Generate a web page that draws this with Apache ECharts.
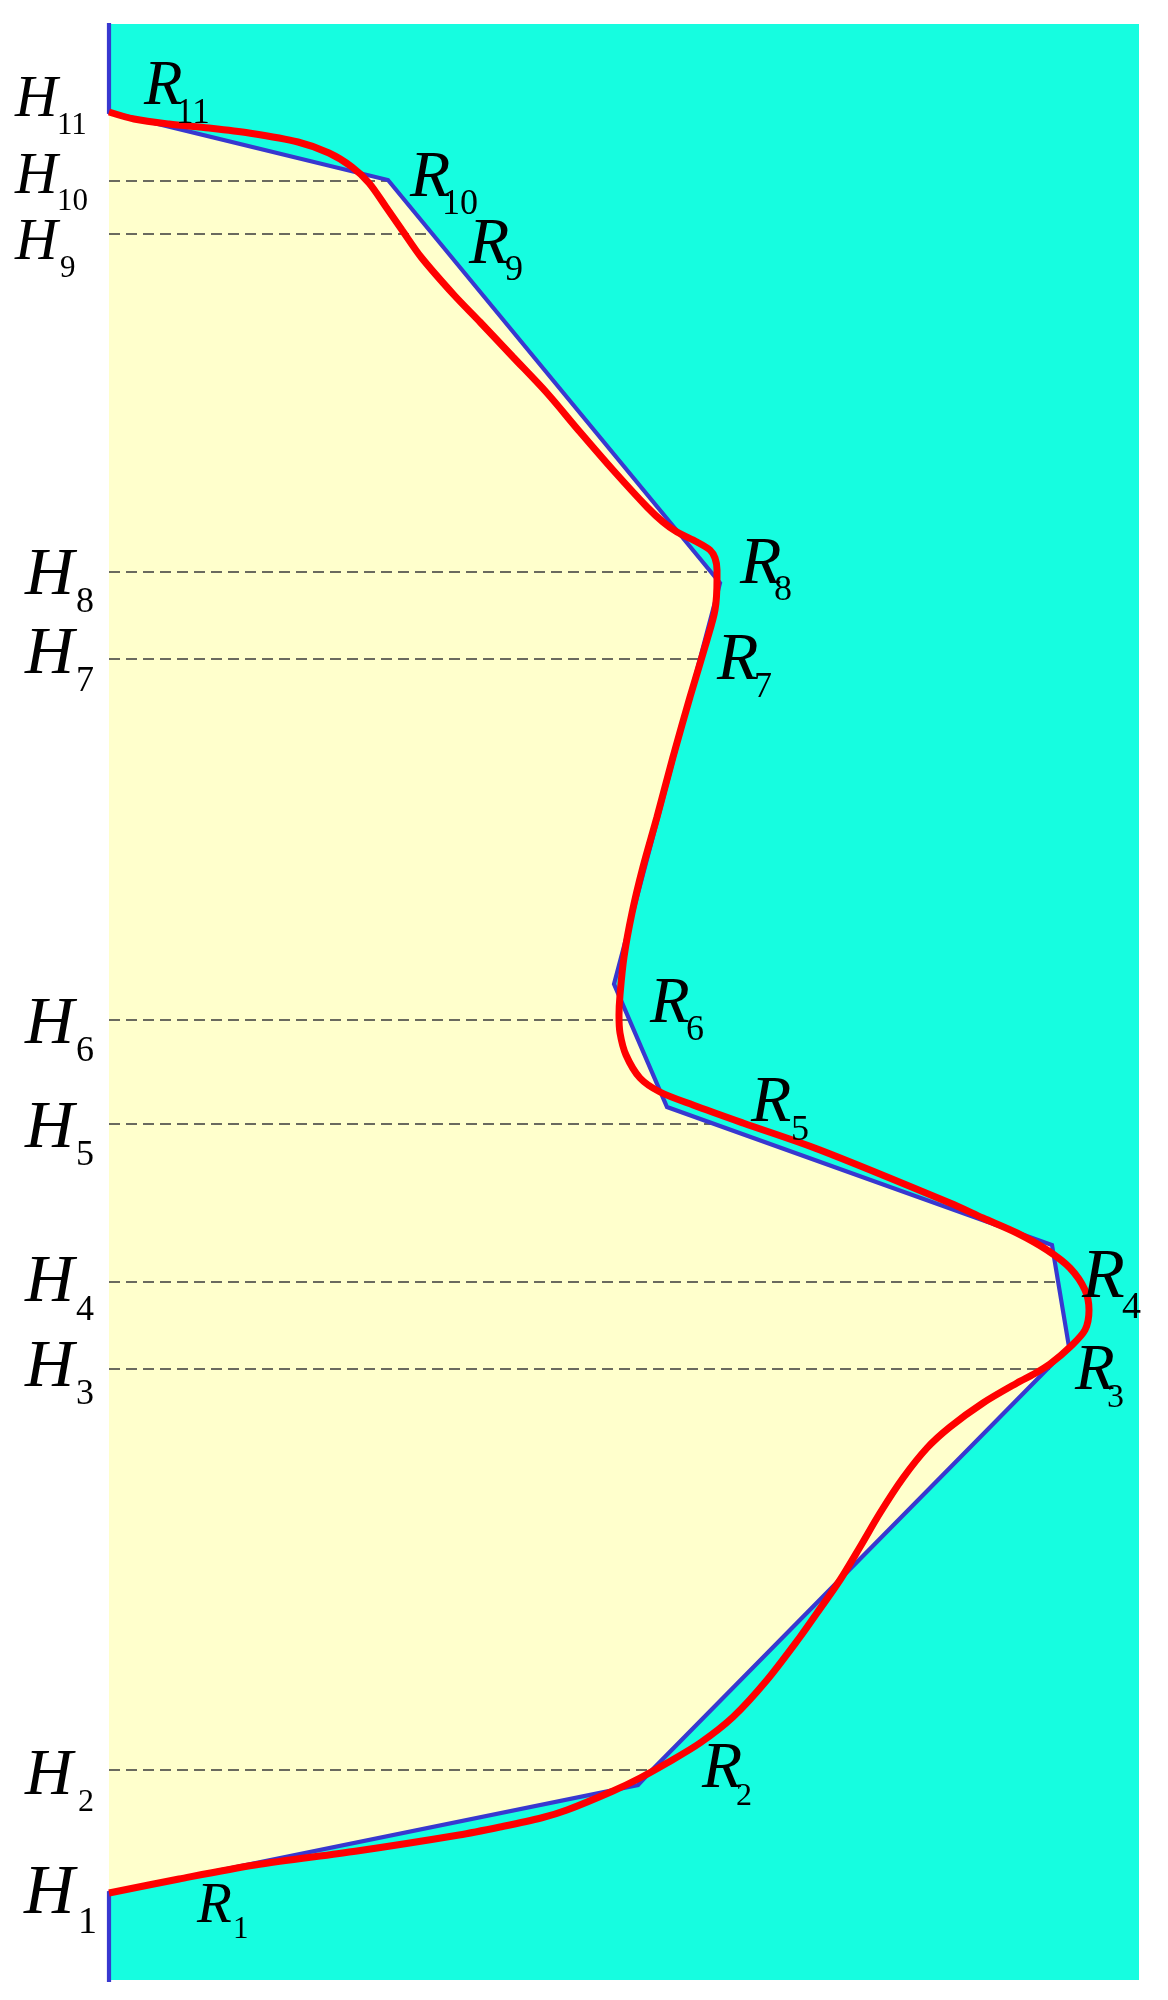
<!DOCTYPE html>
<html>
<head>
<meta charset="utf-8">
<style>html,body{margin:0;padding:0;background:#fff}#c{width:1168px;height:2000px}</style>
<script src="https://cdn.jsdelivr.net/npm/echarts@6/dist/echarts.min.js"></script>
</head>
<body>
<div id="c"></div>
<script>
// Profile: [radius, height]
const axisTop = [[0, 1957]];
const linearProfile = [[0,1868],[279,1800],[611,1397],[505,996],[558,873],[943,735],[960,633],[543,210],[529,195],[0,87]];
const axisBottom = [[0, -2]];
const fittedCurve = [[0,1868],[25,1861],[60,1856],[100,1852],[140,1847],[189,1838],[220,1827],[243,1813],[260,1797],[277,1773],[293,1750],[312,1723],[345,1685],[371,1658],[404,1623],[438,1587],[471,1548],[504,1510],[538,1473],[554,1458],[568,1448],[588,1438],[601,1430],[606,1422],[608,1410],[608,1400],[606,1370],[598,1340],[581,1283],[564,1223],[548,1163],[534,1113],[523,1067],[515,1023],[511,985],[510,965],[511,947],[517,925],[531,902],[551,888],[584,875],[634,857],[711,830],[841,777],[874,762],[908,747],[938,730],[961,712],[976,690],[980,670],[976,650],[961,633],[941,616],[925,606],[908,597],[874,577],[841,553],[818,532],[794,502],[771,467],[751,433],[731,400],[708,367],[691,343],[658,300],[624,263],[591,237],[558,217],[531,202],[504,189],[458,170],[432,162],[391,153],[350,145],[248,129],[146,115],[70,101],[0,87]];
// Dashed levels H2..H10: height and the radius they reach
const levelHeights = [210,611,698,856,960,1321,1408,1746,1799];
const levelReach   = [541,941,949,606,521,591,598,323,279];
// Text labels
const labelLetters = ['H','H','H','H','H','H','H','H','H','H','H','R','R','R','R','R','R','R','R','R','R','R'];
const labelIndices = ['1','2','3','4','5','6','7','8','9','10','11','1','2','3','4','5','6','7','8','9','10','11'];
const labelRadius  = [-85,-84,-84,-84,-84,-84,-84,-84,-94,-94,-94,88,593,966,973,642,541,608,631,360,301,35];
const labelHeight  = [65,187,594,678,833,937,1307,1386,1719,1786,1862,57,193,590,680,857,957,1301,1398,1717,1783,1873];
// Label type sizes: letter size, index size, letter advance, index drop
const letterSize  = [70,66,68,68,68,68,68,68,59,59,59,57,66,65,70,66,65,68,68,66,66,63];
const indexSize   = [38,32,36,36,36,36,36,36,31,31,31,31,32,34,38,36,36,36,36,36,36,35];
const letterWidth = [54,53,51,51,51,51,51,51,45,42,42,36,34,32,40,40,36,37,34,36,32,32];
const indexDrop   = [18,15,16,17,16,16,16,16,16,15,16,14,16,16,19,17,16,16,15,15,16,17];

const SERIF = '"Liberation Serif","Times New Roman",serif';
const ASC = 0.3375;

const labelData = labelLetters.map((l, i) => {
  const F = letterSize[i], f = indexSize[i], d = indexDrop[i];
  const p = 2 * (d + ASC * (F - f));
  const L = Math.max(F, f + p);
  return {
    value: [labelRadius[i], labelHeight[i]],
    label: {
      show: true,
      opacity: 1,
      position: [0, -(L / 2 + ASC * F) + 0.23 * F],
      align: 'left',
      verticalAlign: 'top',
      formatter: '{m|' + l + '}{s|' + labelIndices[i] + '}',
      rich: {
        m: {fontFamily: SERIF, fontStyle: 'italic', fontSize: F, lineHeight: F, width: letterWidth[i], color: '#000', align: 'left'},
        s: {fontFamily: SERIF, fontSize: f, lineHeight: f, padding: [p, 0, 0, 0], color: '#000', align: 'left'}
      }
    }
  };
});

const dashSeries = levelHeights.map((h, i) => ({
  type: 'line', data: [[0, h], [levelReach[i], h]], symbol: 'none', clip: false, z: 3, silent: true,
  lineStyle: {color: '#3a3a3a', width: 1.6, type: [11, 6]}
}));

const chart = echarts.init(document.getElementById('c'), null, {renderer: 'canvas'});
chart.setOption({
  animation: false,
  grid: {left: 109, top: 24, width: 1030, height: 1956, show: true, backgroundColor: '#16FDE0', borderWidth: 0},
  xAxis: {type: 'value', min: 0, max: 1030, show: false},
  yAxis: {type: 'value', min: 0, max: 1956, show: false},
  series: [
    {
      type: 'custom', coordinateSystem: 'cartesian2d', clip: false, silent: true, z: 2,
      data: [[0, 0]],
      renderItem: (params, api) => ({
        type: 'polygon',
        shape: {points: linearProfile.map(p => api.coord(p))},
        style: {fill: '#FFFFCC', stroke: null}
      })
    },
    ...dashSeries,
    {
      type: 'line', data: axisTop.concat(linearProfile, axisBottom), symbol: 'none', clip: false, z: 4, silent: true,
      lineStyle: {color: '#3838D0', width: 4.2, join: 'miter'}
    },
    {
      type: 'line', data: fittedCurve, symbol: 'none', smooth: 0.3, clip: false, z: 5, silent: true,
      lineStyle: {color: '#FF0000', width: 7}
    },
    {
      type: 'scatter', data: labelData, symbolSize: 0, clip: false, z: 6, silent: true,
      itemStyle: {opacity: 1}
    }
  ]
});
</script>
</body>
</html>
